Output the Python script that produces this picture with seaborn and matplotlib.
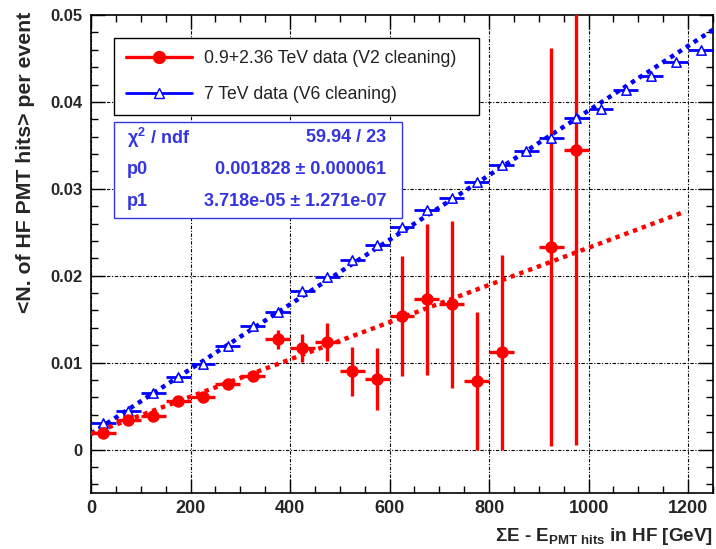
import numpy as np
import pandas as pd
import matplotlib
matplotlib.use("Agg")
import matplotlib.pyplot as plt
import seaborn as sns
from matplotlib.lines import Line2D
from matplotlib.patches import Rectangle
from matplotlib.ticker import MultipleLocator, FixedLocator, FuncFormatter

# ---------------- data ----------------
blue_x = [25, 75, 125, 175, 225, 275, 325, 375, 425, 475, 525, 575, 625,
          675, 725, 775, 825, 875, 925, 975, 1025, 1075, 1125, 1175, 1225]
blue_y = [0.0031, 0.0044, 0.0065, 0.0084, 0.0099, 0.0119, 0.0142, 0.0158,
          0.0182, 0.0199, 0.0218, 0.0235, 0.0256, 0.0276, 0.0289, 0.0308,
          0.0327, 0.0343, 0.0359, 0.0381, 0.0392, 0.0414, 0.0430, 0.0446,
          0.0460]
blue_yerr = [0.0002] * len(blue_x)

red_x = [25, 75, 125, 175, 225, 275, 325, 375, 425, 475, 525, 575, 625,
         675, 725, 775, 825, 925, 975]
red_y = [0.0019, 0.0034, 0.0039, 0.0056, 0.0061, 0.0075, 0.0085, 0.0127,
         0.0117, 0.0124, 0.0090, 0.0081, 0.0154, 0.0173, 0.0167, 0.0079,
         0.0112, 0.0233, 0.0345]
red_yerr = [0.0005, 0.0004, 0.0003, 0.0004, 0.0003, 0.0004, 0.0004, 0.0011,
            0.0016, 0.0022, 0.0028, 0.0036, 0.0069, 0.0087, 0.0096, 0.0079,
            0.0112, 0.0229, 0.0340]
bin_half_width = 25

blue_fit_x = [0, 1250]
blue_fit_y = [0.00183, 0.0483]
red_fit_x = [0, 1195]
red_fit_y = [0.0018, 0.0274]

x_ticks = [0, 200, 400, 600, 800, 1000, 1200]
y_ticks = [0, 0.01, 0.02, 0.03, 0.04, 0.05]
y_tick_labels = ["0", "0.01", "0.02", "0.03", "0.04", "0.05"]

legend_labels = ["0.9+2.36 TeV data (V2 cleaning)", "7 TeV data (V6 cleaning)"]
stats_rows = [(r"$\chi^{2}$ / ndf", "59.94 / 23"),
              ("p0", "0.001828 ± 0.000061"),
              ("p1", "3.718e-05 ± 1.271e-07")]

# ---------------- style ----------------
sns.set_theme(style="white")
plt.rcParams["font.family"] = ["Liberation Sans", "DejaVu Sans"]
plt.rcParams["mathtext.fontset"] = "custom"
plt.rcParams["mathtext.rm"] = "Liberation Sans:bold"
plt.rcParams["mathtext.bf"] = "Liberation Sans:bold"
plt.rcParams["mathtext.it"] = "Liberation Sans:bold:italic"
plt.rcParams["mathtext.default"] = "bf"

RED = "#ff0000"
BLUE = "#0000ff"
STAT_BLUE = "#3434e0"

fig = plt.figure(figsize=(7.16, 5.49), dpi=100)
ax = fig.add_axes([91 / 716, 1 - 493 / 549, 622 / 716, 478 / 549])
ax.set_xlim(0, 1250)
ax.set_ylim(-0.005, 0.05)

# grid
for gx in x_ticks:
    ax.axvline(gx, color="black", lw=0.8, ls=(0, (3, 1.5, 1, 1.5)), zorder=0)
for gy in y_ticks[:-1]:
    ax.axhline(gy, color="black", lw=0.8, ls=(0, (3, 1.5, 1, 1.5)), zorder=0)

dot_ls = (0, (1, 1.1))

# fit lines
sns.lineplot(x=blue_fit_x, y=blue_fit_y, ax=ax, color=BLUE, lw=3.2,
             linestyle=dot_ls, zorder=4)
sns.lineplot(x=red_fit_x, y=red_fit_y, ax=ax, color=RED, lw=3.2,
             linestyle=dot_ls, zorder=4)

# error bars
ax.errorbar(blue_x, blue_y, xerr=bin_half_width, yerr=blue_yerr, fmt="none",
            ecolor=BLUE, elinewidth=2.0, capsize=0, zorder=3)
ax.errorbar(red_x, red_y, xerr=bin_half_width, yerr=red_yerr, fmt="none",
            ecolor=RED, elinewidth=2.4, capsize=0, zorder=5)

# markers
df_blue = pd.DataFrame({"x": blue_x, "y": blue_y})
df_red = pd.DataFrame({"x": red_x, "y": red_y})
sns.scatterplot(data=df_blue, x="x", y="y", ax=ax, marker="^", s=45,
                facecolor="white", edgecolor=BLUE, linewidth=1.1, zorder=6)
sns.scatterplot(data=df_red, x="x", y="y", ax=ax, marker="o", s=80,
                color=RED, edgecolor=RED, linewidth=0, zorder=7)

ax.set_xlabel("")
ax.set_ylabel("")

# ticks
ax.xaxis.set_major_locator(FixedLocator(x_ticks))
ax.xaxis.set_minor_locator(MultipleLocator(50))
ax.yaxis.set_major_locator(FixedLocator(y_ticks))
ax.yaxis.set_major_formatter(FuncFormatter(
    lambda v, p: y_tick_labels[y_ticks.index(round(v, 3))] if round(v, 3) in y_ticks else ""))
ax.yaxis.set_minor_locator(MultipleLocator(0.002))
ax.tick_params(which="both", direction="in", top=True, right=True,
               bottom=True, left=True, color="black")
ax.tick_params(which="major", length=10, width=1.0)
ax.tick_params(which="minor", length=5, width=1.0)
ax.tick_params(axis="x", which="major", labelsize=13, pad=5)
ax.tick_params(axis="y", which="major", labelsize=12, pad=6)
for lab in ax.get_xticklabels() + ax.get_yticklabels():
    lab.set_fontweight("bold")
for sp in ax.spines.values():
    sp.set_color("black")
    sp.set_linewidth(1.2)

# axis titles
fig.text(713 / 716, 1 - 541 / 549, r"ΣE - E$_{\mathbf{PMT\ hits}}$ in HF [GeV]",
         ha="right", va="baseline", fontsize=13.6, fontweight="bold")
fig.text(26 / 716, 1 - 12 / 549, "<N. of HF PMT hits> per event",
         rotation=90, ha="center", va="top", fontsize=15.3, fontweight="bold")

# legend
handles = [Line2D([], [], color=RED, lw=2.4, marker="o", markersize=8.5,
                  markerfacecolor=RED, markeredgecolor=RED),
           Line2D([], [], color=BLUE, lw=2.0, marker="^", markersize=6.5,
                  markerfacecolor="white", markeredgecolor=BLUE)]
leg = ax.legend(handles, legend_labels, loc="upper left",
                bbox_to_anchor=(23 / 622, 1 - 23 / 478, 365 / 622, 0.0),
                mode="expand", borderaxespad=0, fancybox=False,
                frameon=True, framealpha=1, edgecolor="black",
                fontsize=12.7, handlelength=3.7, handletextpad=0.7,
                labelspacing=1.05, borderpad=0.7)
leg.get_frame().set_linewidth(1.0)
for t in leg.get_texts():
    t.set_color("#222222")
leg.set_zorder(10)

# stats box
bx0, bx1 = (114 - 91) / 622, (402 - 91) / 622
by_top, by_bot = 1 - (122 - 15) / 478, 1 - (218 - 15) / 478
ax.add_patch(Rectangle((bx0, by_bot), bx1 - bx0, by_top - by_bot,
                       transform=ax.transAxes, facecolor="white",
                       edgecolor=STAT_BLUE, lw=1.0, zorder=10))
row_px = [138, 170, 202]
for (lt, rt), ry in zip(stats_rows, row_px):
    yy = 1 - (ry - 15) / 478
    ax.text((127 - 91) / 622, yy, lt, transform=ax.transAxes, ha="left",
            va="center", fontsize=13, fontweight="bold", color=STAT_BLUE,
            zorder=11)
    ax.text((386 - 91) / 622, yy, rt, transform=ax.transAxes, ha="right",
            va="center", fontsize=13, fontweight="bold", color=STAT_BLUE,
            zorder=11)

fig.savefig("out.png", dpi=100, facecolor="white")
